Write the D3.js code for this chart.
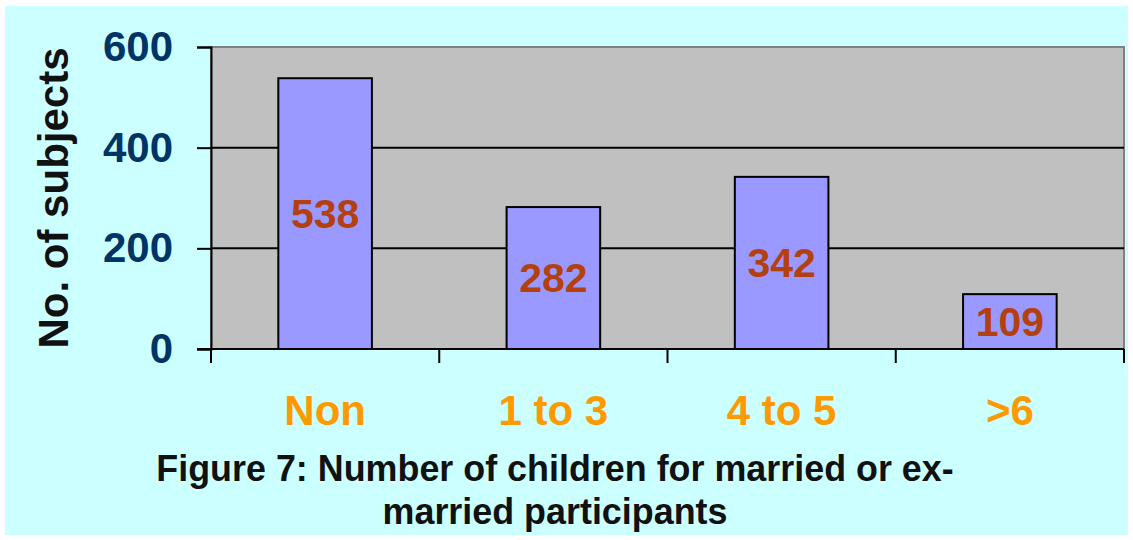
<!DOCTYPE html>
<html>
<head>
<meta charset="utf-8">
<script src="https://cdn.jsdelivr.net/npm/d3@7"></script>
<style>
  html, body { margin: 0; padding: 0; background: #fff; }
  svg { display: block; }
</style>
</head>
<body>
<svg id="chart" width="1133" height="540"></svg>
<script>
const categories = ["Non", "1 to 3", "4 to 5", ">6"];
const values = [538, 282, 342, 109];
const yTicks = [0, 200, 400, 600];
const captionLines = ["Figure 7: Number of children for married or ex-", "married participants"];

const font = "Liberation Sans, Arial, sans-serif";
const svg = d3.select("#chart");

// panel background
svg.append("rect")
    .attr("x", 5).attr("y", 6)
    .attr("width", 1123).attr("height", 529)
    .attr("fill", "#ccffff");

const plot = { left: 211, right: 1124, top: 47, bottom: 349 };

const x = d3.scaleBand()
    .domain(categories)
    .range([plot.left, plot.right])
    .paddingInner(0.59)
    .paddingOuter(0.295);

const y = d3.scaleLinear()
    .domain([0, 600])
    .range([plot.bottom, plot.top]);

// plot area
svg.append("rect")
    .attr("x", plot.left).attr("y", plot.top)
    .attr("width", plot.right - plot.left).attr("height", plot.bottom - plot.top)
    .attr("fill", "#c0c0c0")
    .attr("stroke", "#808080")
    .attr("stroke-width", 2);

// gridlines
svg.append("g")
    .selectAll("line")
    .data(yTicks.filter(d => d > 0 && d < 600))
    .enter().append("line")
    .attr("x1", plot.left).attr("x2", plot.right)
    .attr("y1", d => y(d)).attr("y2", d => y(d))
    .attr("stroke", "#000")
    .attr("stroke-width", 2);

// bars
svg.append("g")
    .selectAll("rect")
    .data(values)
    .enter().append("rect")
    .attr("x", (d, i) => x(categories[i]))
    .attr("y", d => y(d))
    .attr("width", x.bandwidth())
    .attr("height", d => y(0) - y(d))
    .attr("fill", "#9999ff")
    .attr("stroke", "#000")
    .attr("stroke-width", 2);

// value labels
svg.append("g")
    .selectAll("text")
    .data(values)
    .enter().append("text")
    .attr("x", (d, i) => x(categories[i]) + x.bandwidth() / 2)
    .attr("y", d => (y(d) + y(0)) / 2)
    .attr("dy", "0.34em")
    .attr("text-anchor", "middle")
    .attr("font-family", font)
    .attr("font-weight", "bold")
    .attr("font-size", 41)
    .attr("fill", "#b5400f")
    .text(d => d);

// y axis
const yAxis = svg.append("g")
    .attr("transform", `translate(${plot.left},0)`)
    .call(d3.axisLeft(y).tickValues(yTicks).tickSize(14).tickPadding(24));
yAxis.select(".domain").attr("stroke", "#000").attr("stroke-width", 2);
yAxis.selectAll(".tick line").attr("stroke", "#000").attr("stroke-width", 2);
yAxis.selectAll(".tick text")
    .attr("font-family", font)
    .attr("font-weight", "bold")
    .attr("font-size", 42)
    .attr("fill", "#003366");

// x axis: ticks on band boundaries
const xAxis = svg.append("g")
    .attr("transform", `translate(0,${plot.bottom})`);
xAxis.append("line")
    .attr("x1", plot.left - 14).attr("x2", plot.right)
    .attr("stroke", "#000").attr("stroke-width", 2);
const bounds = categories.map(c => x(c) - x.step() * x.paddingInner() / 2).concat([plot.right]);
xAxis.selectAll("line.tick")
    .data(bounds)
    .enter().append("line")
    .attr("class", "tick")
    .attr("x1", d => d).attr("x2", d => d)
    .attr("y1", 0).attr("y2", 14)
    .attr("stroke", "#000").attr("stroke-width", 2);
xAxis.selectAll("text")
    .data(categories)
    .enter().append("text")
    .attr("x", d => x(d) + x.bandwidth() / 2)
    .attr("y", 76)
    .attr("text-anchor", "middle")
    .attr("font-family", font)
    .attr("font-weight", "bold")
    .attr("font-size", 42)
    .attr("fill", "#ff9900")
    .text(d => d);

// y axis title
svg.append("text")
    .attr("transform", `translate(68,${(plot.top + plot.bottom) / 2}) rotate(-90)`)
    .attr("text-anchor", "middle")
    .attr("font-family", font)
    .attr("font-weight", "bold")
    .attr("font-size", 42)
    .attr("fill", "#111")
    .text("No. of subjects");

// caption (condensed look via horizontal scale)
svg.append("g")
    .attr("transform", "translate(555,0) scale(0.97,1)")
    .selectAll("text")
    .data(captionLines)
    .enter().append("text")
    .attr("x", 0)
    .attr("y", (d, i) => 481 + i * 43)
    .attr("text-anchor", "middle")
    .attr("font-family", font)
    .attr("font-weight", "bold")
    .attr("font-size", 37)
    .attr("fill", "#111")
    .text(d => d);
</script>
</body>
</html>
